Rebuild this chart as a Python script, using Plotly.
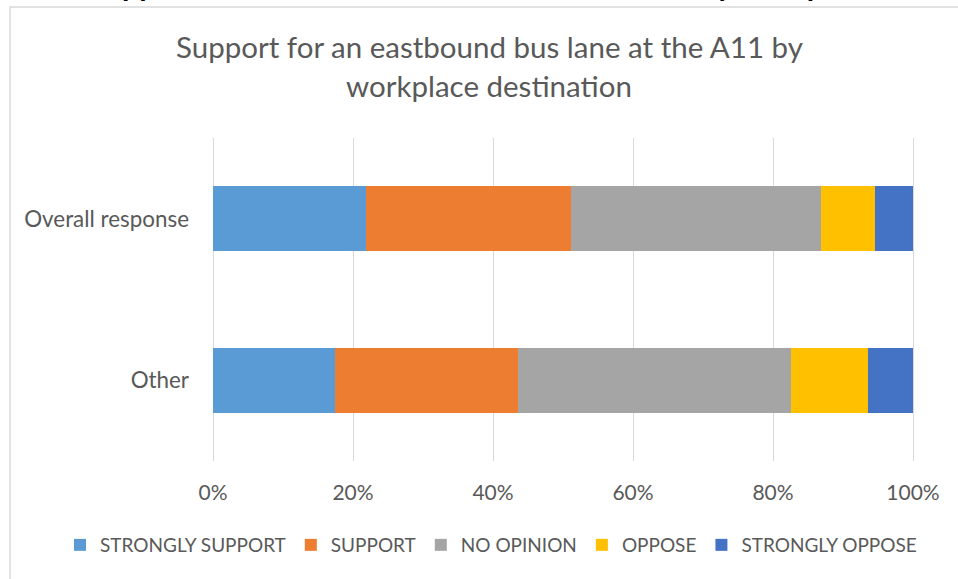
import plotly.graph_objects as go

# Survey responses, share of respondents in each group
categories = ["Other", "Overall response"]
series_names = ["STRONGLY SUPPORT", "SUPPORT", "NO OPINION", "OPPOSE", "STRONGLY OPPOSE"]
strongly_support = [0.174, 0.218]
support = [0.261, 0.294]
no_opinion = [0.391, 0.356]
oppose = [0.110, 0.078]
strongly_oppose = [0.064, 0.054]
x_ticks = [0, 0.2, 0.4, 0.6, 0.8, 1.0]

series_values = [strongly_support, support, no_opinion, oppose, strongly_oppose]
colors = ["#5B9BD5", "#ED7D31", "#A5A5A5", "#FFC000", "#4472C4"]

W, H = 958, 579
L, R, T, B = 211, 915, 138, 461  # plot area in pixels
EDGE = 2 / 700  # small padding so the 0% and 100% grid lines are drawn


def px(x):
    return (x - L) / (R - L)


def py(y):
    return (B - y) / (B - T)


TEXT = "#595959"
FONT = "Lato"

fig = go.Figure()
for name, vals, col in zip(series_names, series_values, colors):
    fig.add_trace(go.Bar(
        y=categories, x=vals, name=name, orientation="h",
        marker=dict(color=col, line=dict(width=0)),
        hovertemplate="%{y}: %{x:.1%}<extra>" + name + "</extra>",
    ))

fig.update_layout(
    width=W, height=H,
    margin=dict(l=L, r=W - R, t=T, b=H - B, pad=0, autoexpand=False),
    barmode="stack", bargap=0.6,
    paper_bgcolor="white", plot_bgcolor="white",
    font=dict(family=FONT, color=TEXT, size=21),
    showlegend=True,
    legend=dict(
        orientation="h",
        x=px(60), xanchor="left",
        y=py(545), yanchor="middle",
        font=dict(family=FONT, size=19, color=TEXT),
        traceorder="normal", itemclick=False, itemwidth=30,
    ),
    xaxis=dict(
        range=[-EDGE, 1 + EDGE], tickvals=x_ticks, tickformat=".0%",
        showgrid=True, gridcolor="#D9D9D9", gridwidth=1,
        zeroline=False, showline=False, ticks="",
        ticklabelstandoff=17,
        tickfont=dict(family=FONT, size=21, color=TEXT),
    ),
    yaxis=dict(
        categoryorder="array", categoryarray=categories,
        showgrid=False, zeroline=False, showline=False, ticks="",
        ticklabelstandoff=21,
        tickfont=dict(family=FONT, size=22.4, color=TEXT),
    ),
    shapes=[
        # chart frame
        dict(type="rect", xref="paper", yref="paper",
             x0=px(10), x1=px(1100), y0=py(7), y1=py(700),
             line=dict(color="#D9D9D9", width=1.5), fillcolor="rgba(0,0,0,0)",
             layer="below"),
    ],
    annotations=[
        dict(text="Support for an eastbound bus lane at the A11 by",
             xref="paper", yref="paper", x=px(489), y=py(46),
             xanchor="center", yanchor="middle", showarrow=False,
             font=dict(family=FONT, size=29.5, color=TEXT)),
        dict(text="workplace destination",
             xref="paper", yref="paper", x=px(489), y=py(85),
             xanchor="center", yanchor="middle", showarrow=False,
             font=dict(family=FONT, size=29.5, color=TEXT)),
        # document heading above the chart, mostly outside the page
        dict(text="<b>Support for an eastbound bus lane at the A11 by workplace destination</b>",
             xref="paper", yref="paper", x=px(87), y=py(4),
             xanchor="left", yanchor="bottom", showarrow=False,
             font=dict(family=FONT, size=30, color="black")),
    ],
)

fig.write_html("out.html")
